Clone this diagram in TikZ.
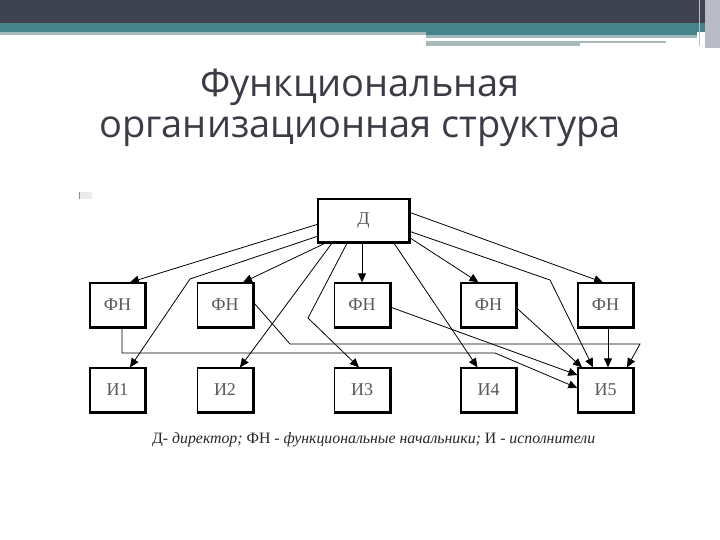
\documentclass[tikz,border=0pt]{standalone}
\usepackage{fontspec}
\setmainfont{Liberation Serif}
\newfontfamily\titlefont{Open Sans}
\usetikzlibrary{arrows.meta,calc}
\definecolor{hdrdark}{HTML}{3E4251}
\definecolor{hdrteal}{HTML}{44848A}
\definecolor{hdrgray}{HTML}{A8B9BA}
\definecolor{hdrlight}{HTML}{9DB6B8}
\definecolor{hdrside}{HTML}{B9BCC6}
\definecolor{titlecol}{HTML}{3C3C46}
\tikzset{
  box/.style={draw, line width=1.3pt, minimum width=55pt, minimum height=44pt,
    inner sep=0pt, font=\fontsize{18}{18}\selectfont, text=black!65},
  conn/.style={line width=0.8pt, -{Triangle[length=9pt,width=8pt]}},
  titletext/.style={font=\titlefont\fontsize{38}{38}\selectfont, text=titlecol, inner sep=0pt, anchor=base}
}
\begin{document}
\begin{tikzpicture}[x=1pt,y=-1pt]
\useasboundingbox (0,0) rectangle (720,540);
\fill[white] (0,0) rectangle (720,540);
% header
\fill[hdrdark] (0,0) rectangle (720,23);
\fill[hdrteal] (0,23) rectangle (720,32);
\fill[hdrgray] (0,32) rectangle (426,35);
\fill[hdrteal] (426,32) rectangle (697,35);
\fill[hdrlight] (426,35) rectangle (697,38);
\fill[hdrgray] (426,41) rectangle (666,43);
\fill[hdrgray] (426,43) rectangle (580,46);
\fill[hdrside] (705,0) rectangle (720,48);
\draw[hdrside, line width=1pt] (699,0) -- (699,46);
% bullet remnant
\fill[black!8] (79,192) rectangle (92,199);
\draw[black!45, line width=0.6pt] (79,192) -- (79,199);
% title
\node[titletext] (t1) at (360,97) {Функциональная};
\node[titletext] (t2) at (360,138) {организационная структура};
% boxes
\node[box, minimum width=91pt, minimum height=43pt] (D) at (363.5,220.5) {Д};
\node[box] (F1) at (117.5,305) {ФН};
\node[box] (F2) at (225,305) {ФН};
\node[box] (F3) at (362,305) {ФН};
\node[box] (F4) at (488.5,305) {ФН};
\node[box] (F5) at (605.5,305) {ФН};
\node[box] (I1) at (117.5,390) {И1};
\node[box] (I2) at (225,390) {И2};
\node[box] (I3) at (362,390) {И3};
\node[box] (I4) at (488.5,390) {И4};
\node[box] (I5) at (605.5,390) {И5};
\foreach \n in {D,F1,F2,F3,F4,F5,I1,I2,I3,I4,I5}{
  \draw[line width=3pt] (\n.south west) -- (\n.south east) -- (\n.north east);
}
% connectors from Д
\draw[conn] ($(D.north west)+(0,26)$) -- ($(F1.north)+(12.5,0)$);
\draw[conn] ($(D.north west)+(0,38)$) -- (190,279) -- ($(I1.north)+(12.5,0)$);
\draw[conn] ($(D.south west)+(9,0)$) -- ($(F2.north)+(18,0)$);
\draw[conn] ($(D.south west)+(15,0)$) -- ($(I2.north)+(15,0)$);
\draw[conn] ($(D.south west)+(30,0)$) -- (308,318) -- ($(I3.north)+(-3,0)$);
\draw[conn] (F3.north |- D.south) -- (F3.north);
\draw[conn] ($(D.south east)+(-16,0)$) -- ($(I4.north)+(-11,0)$);
\draw[conn] ($(D.south east)+(0,-5)$) -- ($(F4.north)+(-10,0)$);
\draw[conn] ($(D.north east)+(0,33)$) -- (550,280) -- ($(I5.north)+(-12.5,0)$);
\draw[conn] ($(D.north east)+(0,14)$) -- ($(F5.north)+(-2.5,0)$);
% connectors from ФН
\draw[conn] ($(F1.south)+(4.5,0)$) -- (122,353) -- (495,353) -- ($(I5.west)+(0,-2)$);
\draw[conn] ($(F2.east)+(0,-3)$) -- (290,344) -- (640,344) -- ($(I5.north)+(21.5,0)$);
\draw[conn] ($(F3.east)+(0,2)$) -- ($(I5.west)+(0,-15)$);
\draw[conn] ($(F4.east)+(0,3)$) -- ($(I5.north)+(-23.5,0)$);
\draw[conn] ($(F5.south)+(2.5,0)$) -- ($(I5.north)+(2.5,0)$);
% caption
\node[anchor=base west, inner sep=0pt, font=\fontsize{15.8}{16}\selectfont, text=black!85] (cap) at (152,443)
  {Д- \textit{директор;} ФН - \textit{функциональные начальники;} И - \textit{исполнители}};
\end{tikzpicture}
\end{document}
